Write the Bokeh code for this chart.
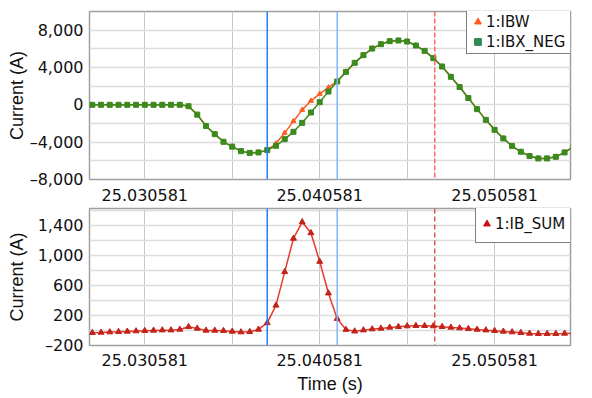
from bokeh.plotting import figure
from bokeh.models import (Range1d, FixedTicker, PrintfTickFormatter, CustomJSTickFormatter,
                          Span, Legend, LegendItem)
from bokeh.layouts import column
from bokeh.embed import file_html
from bokeh.resources import INLINE

# ---- data (sampled every 0.5 ms) ----
T0 = 25.027581
DT = 0.0005

ibx_neg = [0, 0, 0, 0, 0, 0, 0, 0, 0, 0,
           0, -150, -1050, -2260, -3140, -3960, -4480, -4960, -5150, -5100,
           -4850, -4390, -3680, -2890, -1930, -820, 290, 1420, 2500, 3530,
           4500, 5320, 6030, 6500, 6820, 6890, 6780, 6350, 5780, 5000,
           4100, 3000, 1910, 730, -460, -1610, -2680, -3600, -4420, -5030,
           -5490, -5740, -5740, -5570, -5100, -4500]

ibw = [0, 0, 0, 0, 0, 0, 0, 0, 0, 0,
       0, -150, -1050, -2260, -3140, -3960, -4480, -4960, -5150, -5100,
       -4850, -4150, -3000, -1750, -540, 430, 1170, 1850, 2560, 3530,
       4500, 5320, 6030, 6500, 6820, 6890, 6780, 6350, 5780, 5000,
       4100, 3000, 1910, 730, -460, -1610, -2680, -3600, -4420, -5030,
       -5490, -5740, -5740, -5570, -5100, -4500]

ib_sum = [-31, -27, -22, -18, -13, -9, -4, 0, 4, 4,
          13, 48, 27, 0, 0, -4, -13, -22, -18, 13,
          100, 333, 778, 1222, 1440, 1295, 915, 495, 156, 11,
          -11, 4, 18, 27, 40, 49, 58, 62, 62, 58,
          49, 40, 31, 22, 13, 4, -4, -13, -22, -31,
          -40, -44, -44, -44, -40, -35]

time = [round(T0 + DT * i, 6) for i in range(len(ibx_neg))]

x_ticks = [25.030581, 25.040581, 25.050581]
x_minor = [25.035581, 25.045581]
top_y_ticks = [-8000, -4000, 0, 4000, 8000]
top_y_minor = [-6000, -2000, 2000, 6000, 10000]
bot_y_ticks = [-200, 200, 600, 1000, 1400]
bot_y_minor = [0, 400, 800, 1200, 1600]
cursor_a = 25.037581
cursor_b = 25.041581
cursor_c = 25.04716

ORANGE = "#ff5a1e"
GREEN = "#3a8a1e"
LEG_GREEN = "#2e8b57"
RED_LINE = "#e63a2c"
RED_MARK = "#c0241a"
TICK_FONT = "DejaVu Sans"
TITLE_FONT = "Liberation Sans"

y_fmt = CustomJSTickFormatter(code="""
const a = Math.abs(tick).toLocaleString('en-US');
return tick < 0 ? '\u2013' + a : a;
""")

xr = Range1d(25.02742, 25.05492)


def style(p, yt, ymin, ylabel_standoff, xlabel_standoff):
    p.xaxis.ticker = FixedTicker(ticks=x_ticks, minor_ticks=x_minor)
    p.yaxis.ticker = FixedTicker(ticks=yt, minor_ticks=ymin)
    p.xaxis.formatter = PrintfTickFormatter(format="%.6f")
    p.yaxis.formatter = y_fmt
    for ax in (p.xaxis, p.yaxis):
        ax.major_tick_line_color = None
        ax.minor_tick_line_color = None
        ax.major_tick_out = 0
        ax.axis_line_color = None
        ax.major_label_text_font = TICK_FONT
        ax.major_label_text_font_size = "16px"
        ax.major_label_text_color = "#111111"
        ax.axis_label_text_font = TITLE_FONT
        ax.axis_label_text_font_size = "18px"
        ax.axis_label_text_font_style = "normal"
        ax.axis_label_text_color = "#111111"
    p.xaxis.major_label_standoff = xlabel_standoff
    p.yaxis.major_label_standoff = 2
    p.yaxis.axis_label = "Current (A)"
    p.yaxis.axis_label_standoff = ylabel_standoff
    p.xgrid.grid_line_color = "#c8c8c8"
    p.xgrid.minor_grid_line_color = "#c8c8c8"
    p.xgrid.grid_line_width = 1
    p.xgrid.minor_grid_line_width = 1
    p.ygrid.grid_line_color = "#dcdcdc"
    p.ygrid.minor_grid_line_color = "#dcdcdc"
    p.ygrid.grid_line_width = 1.5
    p.ygrid.minor_grid_line_width = 1.5
    p.outline_line_color = "#a0a0a0"
    p.outline_line_width = 1.5
    p.background_fill_color = "white"
    p.border_fill_color = "white"
    # range used only so that the legend swatches can be styled apart from the plot markers
    p.extra_y_ranges = {"legend_only": Range1d(1e7, 1e7 + 1)}


# ---------------- top chart ----------------
p1 = figure(width=592, height=205, x_range=xr, y_range=Range1d(-8000, 10000),
            output_backend="svg", toolbar_location=None,
            min_border_left=89, min_border_right=22, min_border_top=11, min_border_bottom=26)
style(p1, top_y_ticks, top_y_minor, 0, 5)

p1.line(time, ibw, line_color=ORANGE, line_width=1.5)
p1.scatter(time, ibw, marker="triangle", size=5, color=ORANGE)
p1.line(time, ibx_neg, line_color=GREEN, line_width=1.5)
p1.scatter(time, ibx_neg, marker="square", size=5, color=GREEN)
leg_ibw = p1.scatter(time, ibw, marker="triangle", color=ORANGE, y_range_name="legend_only")
leg_ibx = p1.scatter(time, ibx_neg, marker="square", color=LEG_GREEN, y_range_name="legend_only")

p1.add_layout(Span(location=cursor_a, dimension="height", line_color="#1f7fff", line_width=1.5))
p1.add_layout(Span(location=cursor_b, dimension="height", line_color="#7fb6ff", line_width=1.5))
p1.add_layout(Span(location=cursor_c, dimension="height", line_color="#ff6b6b", line_width=1.5,
                   line_dash="5 2"))

leg1 = Legend(items=[LegendItem(label="1:IBW", renderers=[leg_ibw]),
                     LegendItem(label="1:IBX_NEG", renderers=[leg_ibx])],
              location=(377, 125), orientation="vertical",
              glyph_width=17, glyph_height=19, label_height=19, label_width=110,
              label_standoff=0, padding=2, spacing=1, margin=0,
              border_line_color="black", border_line_width=1, background_fill_alpha=1,
              label_text_font=TICK_FONT, label_text_font_size="15px", label_text_color="#111111")
p1.add_layout(leg1)

# ---------------- bottom chart ----------------
p2 = figure(width=592, height=193, x_range=xr, y_range=Range1d(-200, 1620),
            output_backend="svg", toolbar_location=None,
            min_border_left=89, min_border_right=22, min_border_top=3, min_border_bottom=53)
style(p2, bot_y_ticks, bot_y_minor, 8, 4)
p2.xaxis.axis_label = "Time (s)"
p2.xaxis.axis_label_standoff = 5

p2.line(time, ib_sum, line_color=RED_LINE, line_width=1.5)
p2.scatter(time, ib_sum, marker="triangle", size=6, color=RED_MARK)
leg_sum = p2.scatter(time, ib_sum, marker="triangle", color="#cc1010", y_range_name="legend_only")

p2.add_layout(Span(location=cursor_a, dimension="height", line_color="#1f7fff", line_width=1.5))
p2.add_layout(Span(location=cursor_b, dimension="height", line_color="#7fb6ff", line_width=1.5))
p2.add_layout(Span(location=cursor_c, dimension="height", line_color="#e03030", line_width=1.2,
                   line_dash="5 3"))

leg2 = Legend(items=[LegendItem(label="1:IB_SUM", renderers=[leg_sum])],
              location=(386, 102), orientation="vertical",
              glyph_width=17, glyph_height=33, label_height=33, label_width=110,
              label_standoff=0, padding=2, spacing=0, margin=0,
              border_line_color="black", border_line_width=1, background_fill_alpha=1,
              label_text_font=TICK_FONT, label_text_font_size="15px", label_text_color="#111111")
p2.add_layout(leg2)

layout = column(p1, p2, spacing=0)
open("out.html", "w").write(file_html(layout, INLINE))
